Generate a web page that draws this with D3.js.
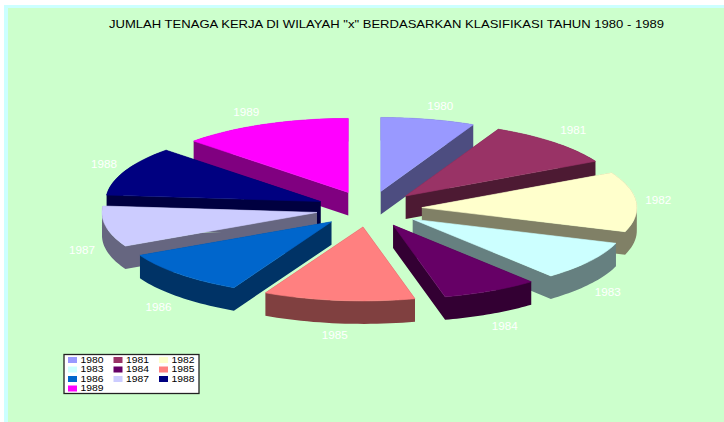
<!DOCTYPE html>
<html><head><meta charset="utf-8">
<script src="https://cdn.jsdelivr.net/npm/d3@7"></script>
<style>html,body{margin:0;padding:0;background:#fff}svg{display:block}text{font-family:"Liberation Sans",Arial,sans-serif}</style>
</head><body><svg id="c" width="724" height="422"></svg>
<script>
const titleText='JUMLAH TENAGA KERJA DI WILAYAH "x" BERDASARKAN KLASIFIKASI TAHUN 1980 - 1989';
const years=["1980","1981","1982","1983","1984","1985","1986","1987","1988","1989"];
const shares=[25.5,36.5,47,31,26,41,36,32,39,46];
const colors=["#9999FF","#993366","#FFFFCC","#CCFFFF","#660066","#FF8080","#0066CC","#CCCCFF","#000080","#FF00FF"];
const labelDx=[12,19,22,18,14,-4,-21,-24,-21,-18];
const labelDy=[-13,-12,-1,31,35,35,33,24,-7,-12];

const W=724,H=422,cx=369,cy=209,rx=215,ry=74,ex=53,ey=18,depth=23;
const svg=d3.select("#c");
svg.append("rect").attr("x",4).attr("y",5).attr("width",W-4).attr("height",H-5).attr("fill","#CCFFFF");
svg.append("rect").attr("x",8).attr("y",8).attr("width",W-8).attr("height",H-8).attr("fill","#CCFFCC");

svg.append("text").attr("x",109).attr("y",28).attr("font-size",11).attr("fill","#000")
  .attr("textLength",555).attr("lengthAdjust","spacingAndGlyphs").text(titleText);

const arcs=d3.pie().sort(null).value(d=>d)(shares).map((a,i)=>({...a,i,mid:(a.startAngle+a.endAngle)/2}));
const line=d3.line();
const order=arcs.slice().sort((p,q)=>Math.cos(q.mid)-Math.cos(p.mid));
order.forEach(a=>{
  const ax=cx+ex*Math.sin(a.mid), ay=cy-ey*Math.cos(a.mid);
  const angles=d3.range(0,1.0001,1/24).map(d3.interpolateNumber(a.startAngle,a.endAngle));
  const pts=[[ax,ay],...angles.map(t=>[ax+rx*Math.sin(t),ay-ry*Math.cos(t)])];
  const g=svg.append("g");
  const base=d3.color(colors[a.i]);
  const dark=d3.rgb(base.r/2,base.g/2,base.b/2).formatHex();
  // one seamless side path: every quad wound the same way, filled with nonzero rule
  const sideD=pts.map((p,k)=>{
    const q=pts[(k+1)%pts.length];
    const quad=[p,q,[q[0],q[1]+depth],[p[0],p[1]+depth]];
    return line(d3.polygonArea(quad)<0?quad.reverse():quad)+"Z";
  }).join("");
  g.append("path").attr("d",sideD).attr("fill",dark);
  g.append("path").attr("d",line(pts)+"Z").attr("fill",colors[a.i]).attr("stroke",colors[a.i]).attr("stroke-width",.6);
});
arcs.forEach(a=>{
  const ax=cx+ex*Math.sin(a.mid), ay=cy-ey*Math.cos(a.mid);
  const lx=ax+rx*Math.sin(a.mid)+labelDx[a.i], ly=ay-ry*Math.cos(a.mid)+labelDy[a.i];
  svg.append("text").attr("x",lx-13).attr("y",ly).attr("dy","0.35em")
    .attr("font-size",10.5).attr("fill","#fff").attr("textLength",26).attr("lengthAdjust","spacingAndGlyphs").text(years[a.i]);
});
// legend
const lg=svg.append("g");
lg.append("rect").attr("x",64).attr("y",354.5).attr("width",135).attr("height",39).attr("fill","#fff").attr("stroke","#222").attr("stroke-width",1.3);
const colX=d3.scalePoint().domain([0,1,2]).range([68,159]);
const rowY=d3.scalePoint().domain([0,1,2,3]).range([360,388.5]);
years.forEach((y,i)=>{
  const c=i%3,r=Math.floor(i/3);
  lg.append("rect").attr("x",colX(c)).attr("y",rowY(r)-3).attr("width",9).attr("height",6).attr("fill",colors[i]);
  lg.append("text").attr("x",colX(c)+12.5).attr("y",rowY(r)).attr("dy","0.36em").attr("font-size",8.3).attr("fill","#000")
    .attr("textLength",23).attr("lengthAdjust","spacingAndGlyphs").text(y);
});
</script></body></html>
